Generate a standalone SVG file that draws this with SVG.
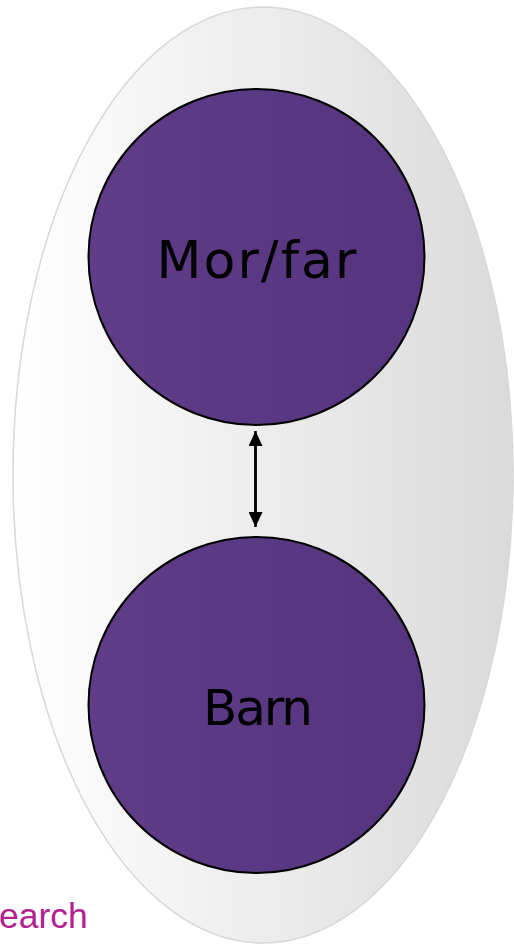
<svg xmlns="http://www.w3.org/2000/svg" width="514" height="945" viewBox="0 0 514 945">
<defs>
<linearGradient id="bg" x1="0" y1="0" x2="1" y2="0">
<stop offset="0" stop-color="#ffffff"/>
<stop offset="1" stop-color="#dadada"/>
</linearGradient>
<linearGradient id="pg" x1="0" y1="0" x2="1" y2="0">
<stop offset="0" stop-color="#603c89"/>
<stop offset="1" stop-color="#56347e"/>
</linearGradient>
<marker id="ah" viewBox="0 0 15 14" refX="15" refY="7" markerWidth="15" markerHeight="14" markerUnits="userSpaceOnUse" orient="auto">
<path d="M0,0 L15,7 L0,14 Z" fill="#000"/>
</marker>
<style>
.node{fill:url(#pg);stroke:#000;stroke-width:2}
.lbl{font-family:"Comic Sans MS","DejaVu Sans",sans-serif;fill:#000;text-anchor:middle}
</style>
</defs>
<rect width="514" height="945" fill="#fff"/>
<g id="group">
<ellipse cx="263" cy="475" rx="250" ry="468" fill="url(#bg)" stroke="#d8d8d8" stroke-width="1.5"/>
</g>
<g id="connectors">
<line x1="255.5" y1="445" x2="255.5" y2="527" stroke="#000" stroke-width="2.5" marker-end="url(#ah)"/>
<line x1="255.5" y1="512" x2="255.5" y2="431" stroke="#000" stroke-width="2.5" marker-end="url(#ah)"/>
</g>
<g id="morfar">
<circle class="node" cx="256.5" cy="257" r="168"/>
<text class="lbl" x="256.5" y="278" font-size="52" textLength="200">Mor/far</text>
</g>
<g id="barn">
<circle class="node" cx="256.5" cy="705" r="168"/>
<text class="lbl" x="258" y="725" font-size="50" textLength="110">Barn</text>
</g>
<text x="-1" y="928" font-family="Liberation Sans, Arial, sans-serif" font-size="35.5" fill="#b3208f">earch</text>
</svg>
